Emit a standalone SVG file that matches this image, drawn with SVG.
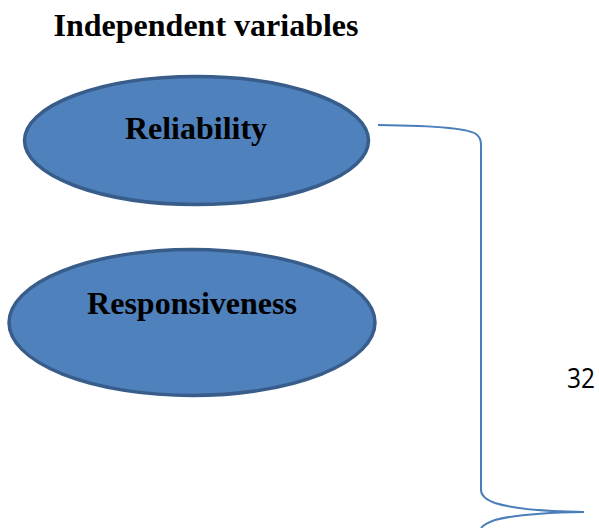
<svg xmlns="http://www.w3.org/2000/svg" width="599" height="528" viewBox="0 0 599 528">
  <style>
    .node { fill: #4F81BD; stroke: #385D8A; stroke-width: 3.5; }
    .label { font-family: "Liberation Serif", "Times New Roman", serif; font-weight: bold; font-size: 32px; fill: #000; text-anchor: middle; }
    .brace { fill: none; stroke: #4A7EBB; stroke-width: 2; }
  </style>
  <rect width="599" height="528" fill="#fff"/>
  <text class="label" x="206" y="36">Independent variables</text>
  <g id="reliability">
    <ellipse class="node" cx="196.5" cy="140.5" rx="172" ry="64"/>
    <text class="label" x="196" y="139">Reliability</text>
  </g>
  <g id="responsiveness">
    <ellipse class="node" cx="192" cy="322.5" rx="183" ry="73"/>
    <text class="label" x="192" y="314">Responsiveness</text>
  </g>
  <g id="connectors">
    <path class="brace" d="M378,125 Q470,126 477,135 Q481,138 481,145 L481,490 Q481,498 495,503 Q520,511 584,512"/>
    <path class="brace" d="M584,512 Q520,513 495,520 Q484,524 481,528"/>
  </g>
  <text x="581" y="388" font-family="'Open Sans', 'Liberation Sans', sans-serif" font-size="27" text-anchor="middle" textLength="28" lengthAdjust="spacingAndGlyphs" fill="#000">32</text>
</svg>
